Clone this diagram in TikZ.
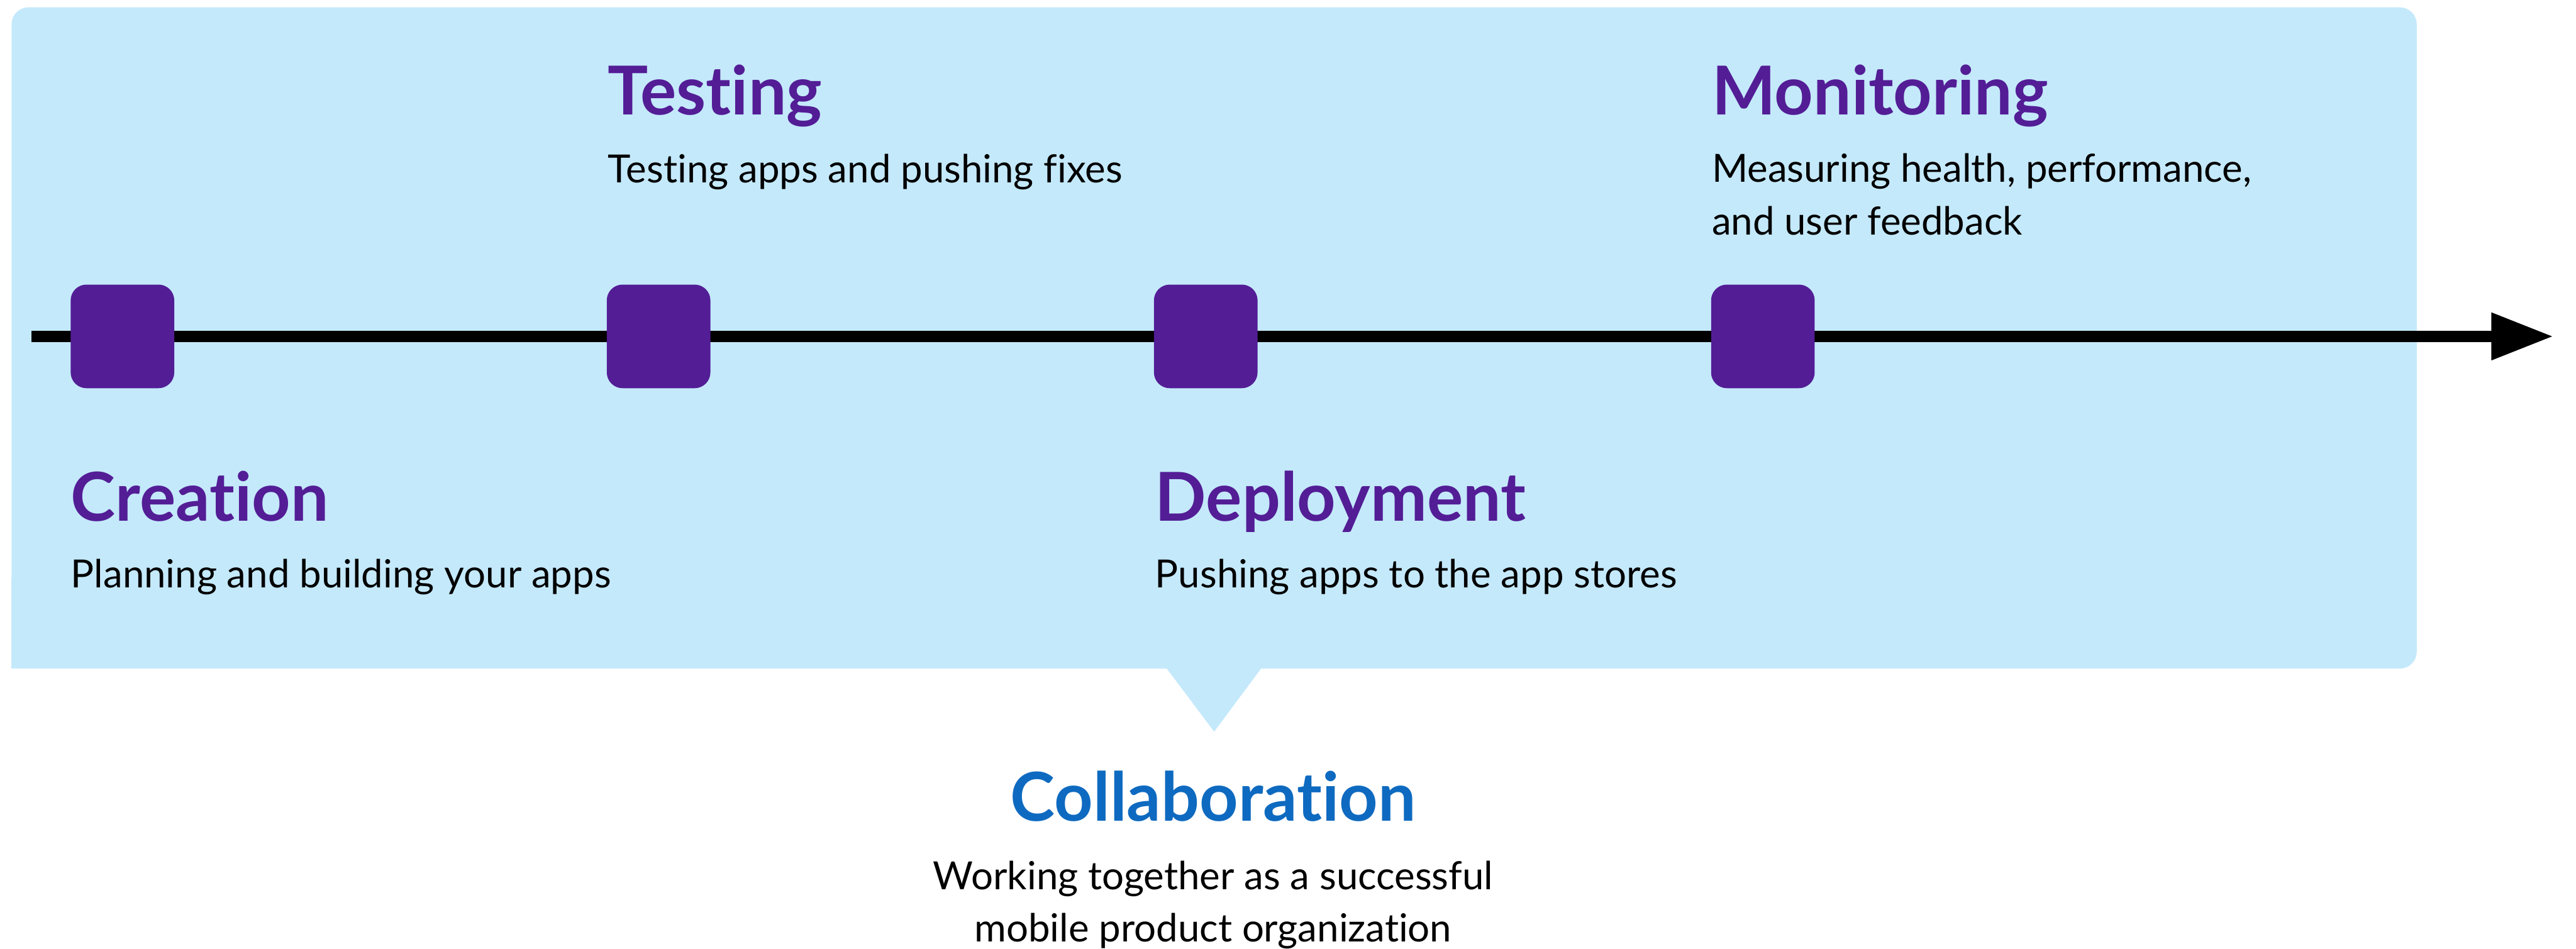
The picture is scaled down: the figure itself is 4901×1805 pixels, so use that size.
\documentclass[tikz,border=0pt]{standalone}
\usepackage{fontspec}
\setmainfont{Lato}[Ligatures=NoCommon]
\usetikzlibrary{arrows.meta, positioning}
\definecolor{panelblue}{HTML}{C4E9FB}
\definecolor{stagepurple}{HTML}{531D96}
\definecolor{collabblue}{HTML}{0E6AC0}

\begin{document}
\begin{tikzpicture}[
    x=0.01cm, y=-0.01cm,
    every node/.style={inner sep=0pt, outer sep=0pt},
    stage/.style={
        rectangle,
        rounded corners=0.3cm,
        fill=stagepurple,
        minimum size=1.97cm
    },
    heading/.style={
        anchor=base west,
        text=stagepurple,
        font=\fontsize{36.5}{42}\selectfont\bfseries
    },
    desc/.style={
        anchor=base west,
        align=left,
        font=\fontsize{21}{28.45}\selectfont
    },
    timeline/.style={line width=0.21cm, -{Triangle[length=1.18cm, width=0.85cm]}}
]
\useasboundingbox (0,0) rectangle (4901,1805);

% panel and its pointer
\fill[panelblue, rounded corners=0.32cm] (22,14) rectangle (4598,1272);
\fill[panelblue] (22,1100) rectangle (300,1272);
\fill[panelblue] (2219,1271) -- (2310,1392) -- (2400,1271) -- cycle;

% timeline
\coordinate (tstart) at (60,640);
\coordinate (tend) at (4858,640);
\draw[timeline] (tstart) -- (tend);

\node[stage] (create) at (233,640) {};
\node[stage] (test) at (1253,640) {};
\node[stage] (deploy) at (2294,640) {};
\node[stage] (monitor) at (3354,640) {};

\node[heading] (testhead) at (1157,218) {Testing};
\node[desc] (testdesc) at (1157,347) {Testing apps and pushing fixes};

% multi-line nodes sit on their last line
\node[heading] (monhead) at (3257,218) {Monitoring};
\node[desc] (mondesc) at (3257,447) {Measuring health, performance,\\and user feedback};

\node[heading] (createhead) at (135,991) {Creation};
\node[desc] (createdesc) at (135,1118) {Planning and building your apps};

\node[heading] (deployhead) at (2198,991) {Deployment};
\node[desc] (deploydesc) at (2198,1118) {Pushing apps to the app stores};

% below the panel
\node[heading, anchor=base, text=collabblue] (collabhead) at (2308,1562) {Collaboration};
\node[desc, anchor=base, align=center] (collabdesc) at (2308,1792) {Working together as a successful\\mobile product organization};

\end{tikzpicture}
\end{document}
